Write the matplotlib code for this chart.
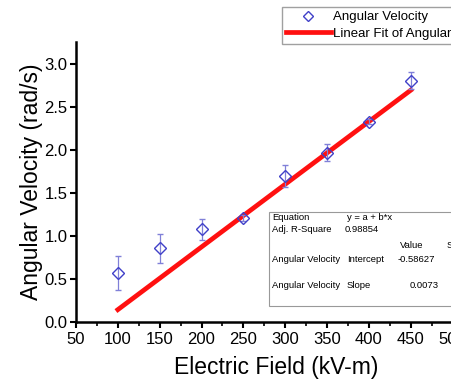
import matplotlib
matplotlib.use("Agg")
import matplotlib.pyplot as plt
from matplotlib.patches import Rectangle
from matplotlib.lines import Line2D
import numpy as np

plt.rcParams['font.family'] = ['Liberation Sans', 'DejaVu Sans']

# data
field = [100, 150, 200, 250, 300, 350, 400, 450]
omega = [0.57, 0.86, 1.08, 1.21, 1.70, 1.97, 2.33, 2.81]
omega_err = [0.20, 0.17, 0.12, 0.03, 0.13, 0.10, 0.03, 0.10]

# fit results shown in the table
intercept = -0.58627
slope = 0.0073
adj_r2 = 0.98854

W, H = 452, 382
fig = plt.figure(figsize=(W / 100, H / 100), dpi=100)
ax = fig.add_axes([76 / W, 60 / H, 400 / W, 280 / H])

ax.errorbar(field, omega, yerr=omega_err, fmt='D', ms=6.5, mfc='none',
            mec='#4040c8', mew=1.0, ecolor='#8080d8', elinewidth=0.9,
            capsize=2, capthick=0.8, zorder=3)

xf = np.array([field[0], field[-1]])
fit, = ax.plot(xf, intercept + slope * xf, color='#ff1010', lw=3.4, zorder=2)

ax.set_xlim(50, 528)
ax.set_ylim(0, 3.26)
ax.set_xticks(np.arange(50, 501, 50))
ax.set_xticks(np.arange(75, 501, 50), minor=True)
ax.set_yticks(np.arange(0, 3.01, 0.5))
ax.yaxis.set_major_formatter(matplotlib.ticker.FormatStrFormatter('%.1f'))

for s in ['top', 'right']:
    ax.spines[s].set_visible(False)
for s in ['left', 'bottom']:
    ax.spines[s].set_linewidth(1.8)
ax.tick_params(which='major', direction='out', length=4, width=1.5,
               labelsize=12, colors='black', pad=2)
ax.tick_params(axis='x', which='major', pad=3)
ax.tick_params(which='minor', direction='out', length=3, width=1.2)

ax.set_xlabel('Electric Field (kV-m)', fontsize=16.5, labelpad=7)
ax.set_ylabel('Angular Velocity (rad/s)', fontsize=16.5, labelpad=1)

pt_handle = Line2D([], [], ls='none', marker='D', ms=5.5, mfc='none',
                   mec='#4040c8', mew=1.0)
fig.legend([pt_handle, fit], ['Angular Velocity', 'Linear Fit of Angular'],
           loc='upper left', bbox_to_anchor=(282 / W, 1 - 7 / H),
           fontsize=9.5, frameon=True, fancybox=False, edgecolor='#888888',
           handlelength=3.4, handletextpad=0.15, borderpad=0.3,
           labelspacing=0.35, borderaxespad=0)

# results table
tx = lambda px: px / W
ty = lambda py: 1 - py / H
fig.patches.append(Rectangle((tx(269), ty(306)), tx(200), 94 / H,
                             transform=fig.transFigure, fill=True,
                             facecolor='white', edgecolor='#999999', lw=0.8,
                             zorder=5))
fs = 6.8
rows = [
    (272, 217, 'Equation'), (347, 217, 'y = a + b*x'),
    (272, 229, 'Adj. R-Square'), (345, 229, '%.5f' % adj_r2),
    (400, 245, 'Value'), (447, 245, 'S'),
    (272, 260, 'Angular Velocity'), (347, 260, 'Intercept'),
    (398, 260, '%.5f' % intercept),
    (272, 286, 'Angular Velocity'), (347, 286, 'Slope'),
    (410, 286, '%g' % slope),
]
for px, py, s in rows:
    fig.text(tx(px), ty(py), s, fontsize=fs, va='center', ha='left',
             zorder=6)

fig.savefig('out.png', dpi=100)
